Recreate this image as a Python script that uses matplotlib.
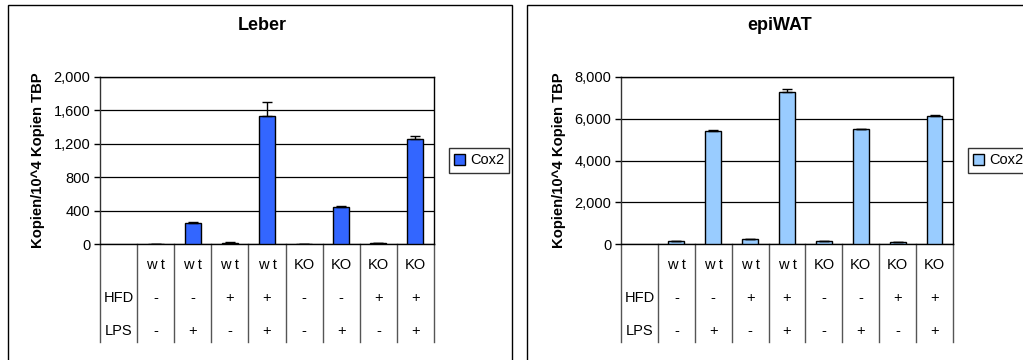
import matplotlib
matplotlib.use("Agg")
import matplotlib.pyplot as plt
from matplotlib.patches import Rectangle, Patch
from matplotlib.ticker import FuncFormatter
import matplotlib.transforms as mtransforms

plt.rcParams['font.family'] = ['Liberation Sans', 'DejaVu Sans']

# Experimental groups (first column of the category table holds the row names)
genotype = ["w t", "w t", "w t", "w t", "KO", "KO", "KO", "KO"]
hfd = ["-", "-", "+", "+", "-", "-", "+", "+"]
lps = ["-", "+", "-", "+", "-", "+", "-", "+"]

# Cox2 expression (copies / 10^4 copies TBP)
leber_values = [2, 255, 15, 1536, 2, 447, 12, 1254]
leber_err = [0, 5, 3, 168, 0, 5, 3, 36]
epiwat_values = [150, 5430, 225, 7267, 150, 5495, 90, 6146]
epiwat_err = [10, 25, 15, 145, 10, 20, 8, 30]

W, H = 1023, 360
fig = plt.figure(figsize=(W / 100, H / 100), dpi=100)


def fx(px):
    return px / W


def fy(py):
    return 1 - py / H


def panel(left_px, right_px, box_left, box_right, title, title_x, values, err, ymax,
          step, color, legend_left):
    # outer chart frame
    fig.patches.append(Rectangle((fx(box_left), fy(400)), fx(box_right - box_left),
                                 fy(5) - fy(400), transform=fig.transFigure,
                                 fill=False, edgecolor='black', linewidth=1.0))
    fig.text(fx(title_x), fy(26), title, ha='center', va='center',
             fontsize=13, fontweight='bold')

    ax = fig.add_axes([fx(left_px), fy(244), fx(right_px - left_px), fy(77) - fy(244)])
    n = len(values) + 1
    xs = list(range(1, n))
    ax.bar(xs, values, width=0.43, color=color, edgecolor='black', linewidth=1.0,
           zorder=3, label='Cox2')
    ax.errorbar(xs, values, yerr=[[0] * len(err), err], fmt='none', ecolor='black',
                elinewidth=1.0, capsize=3.5, capthick=1.0, zorder=4)
    ax.set_xlim(-0.5, n - 0.5)
    ax.set_ylim(0, ymax)
    ax.set_yticks(range(0, ymax + 1, step))
    ax.yaxis.set_major_formatter(FuncFormatter(lambda v, p: f"{int(v):,}"))
    ax.tick_params(axis='y', labelsize=10.5, length=4, width=1, pad=3)
    ax.set_xticks([])
    ax.grid(axis='y', color='black', linewidth=0.9, zorder=0)
    for s in ax.spines.values():
        s.set_color('black')
        s.set_linewidth(1.0)
    ax.spines['left'].set_color('#333333')
    ax.set_ylabel("Kopien/10^4 Kopien TBP", fontsize=10.7, fontweight='bold', labelpad=6)

    # category table below the axis
    trans = mtransforms.blended_transform_factory(ax.transData, ax.transAxes)
    bottom = (244 - 342) / 167
    for k in range(n + 1):
        ax.plot([k - 0.5, k - 0.5], [0, bottom], transform=trans, color='#555555',
                linewidth=1.0, clip_on=False)
    row_y = [(244 - 265) / 167, (244 - 298) / 167, (244 - 331) / 167]
    ax.text(0, row_y[1], "HFD", transform=trans, ha='center', va='center', fontsize=10.5)
    ax.text(0, row_y[2], "LPS", transform=trans, ha='center', va='center', fontsize=10.5)
    for i, x in enumerate(xs):
        ax.text(x, row_y[0], genotype[i], transform=trans, ha='center', va='center',
                fontsize=10.5)
        ax.text(x, row_y[1], hfd[i], transform=trans, ha='center', va='center',
                fontsize=10.5)
        ax.text(x, row_y[2], lps[i], transform=trans, ha='center', va='center',
                fontsize=10.5)

    handle = Patch(facecolor=color, edgecolor='black', linewidth=1.0)
    fig.legend([handle], ["Cox2"], loc='center left',
               bbox_to_anchor=(fx(legend_left), fy(160.5)), fontsize=10.5,
               frameon=True, fancybox=False, edgecolor='black', handlelength=0.75,
               handleheight=0.75, handletextpad=0.35, borderpad=0.35,
               borderaxespad=0.0)
    fig.legends[-1].get_frame().set_linewidth(1.0)
    return ax


panel(100, 434, 8, 512, "Leber", 262, leber_values, leber_err, 2000, 400,
      '#3366FF', 449)
panel(621, 953, 527, 1100, "epiWAT", 780, epiwat_values, epiwat_err, 8000, 2000,
      '#99CCFF', 968)

fig.savefig("out.png", dpi=100)
